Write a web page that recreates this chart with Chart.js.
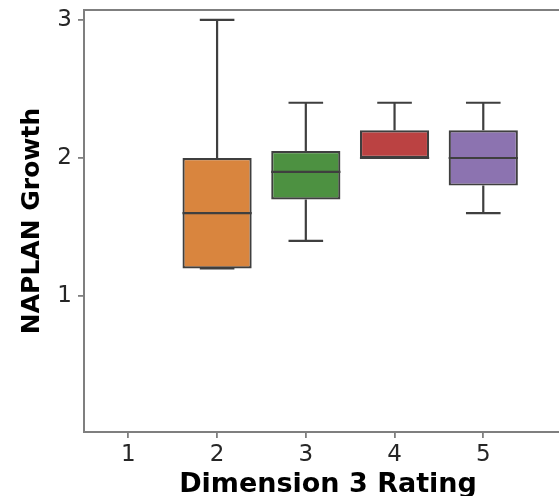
<!DOCTYPE html>
<html>
<head>
<meta charset="utf-8">
<script src="https://cdn.jsdelivr.net/npm/chart.js@4/dist/chart.umd.min.js"></script>
<style>
  html, body { margin: 0; padding: 0; background: #ffffff; overflow: hidden; }
  #wrap { width: 559px; height: 496px; overflow: hidden; position: relative; }
  canvas { display: block; }
</style>
</head>
<body>
<div id="wrap"><canvas id="c" width="572" height="496"></canvas></div>
<script>
// ---- data ----
const categories  = ['1', '2', '3', '4', '5'];
const whiskerLow  = [null, 1.2, 1.4, 2.0, 1.6];
const quartile1   = [null, 1.2, 1.7, 2.0, 1.8];
const medians     = [null, 1.6, 1.9, 2.0, 2.0];
const quartile3   = [null, 2.0, 2.05, 2.2, 2.2];
const whiskerHigh = [null, 3.0, 2.4, 2.4, 2.4];
const yTickValues = [1, 2, 3];
const boxColors   = ['#3274a1', '#d9853e', '#4d9141', '#bb4242', '#8c73b0'];

const LINE = '#3f3f3f';
const SPINE = '#7f7f7f';

const idx = categories.map((c, i) => i).filter(i => quartile1[i] !== null);

const boxData = idx.map(i => ({ x: i + 1, y: [quartile1[i], quartile3[i]] }));
const boxFill = idx.map(i => boxColors[i]);

const boxPlugin = {
  id: 'boxParts',
  afterDatasetsDraw(chart) {
    const ctx = chart.ctx;
    const xs = chart.scales.x, ys = chart.scales.y;
    const meta = chart.getDatasetMeta(0);
    ctx.save();
    ctx.strokeStyle = LINE;
    ctx.lineWidth = 2.2;
    ctx.lineCap = 'butt';
    idx.forEach((i, j) => {
      const el = meta.data[j];
      const cx = xs.getPixelForValue(i + 1);
      const half = el.width / 2;
      const capHalf = half / 2;
      const pLow = ys.getPixelForValue(whiskerLow[i]);
      const pQ1 = ys.getPixelForValue(quartile1[i]);
      const pMed = ys.getPixelForValue(medians[i]);
      const pQ3 = ys.getPixelForValue(quartile3[i]);
      const pHigh = ys.getPixelForValue(whiskerHigh[i]);
      ctx.beginPath();
      ctx.moveTo(cx, pQ3); ctx.lineTo(cx, pHigh);
      ctx.moveTo(cx - capHalf, pHigh); ctx.lineTo(cx + capHalf, pHigh);
      ctx.moveTo(cx, pQ1); ctx.lineTo(cx, pLow);
      ctx.moveTo(cx - capHalf, pLow); ctx.lineTo(cx + capHalf, pLow);
      ctx.moveTo(cx - half, pMed); ctx.lineTo(cx + half, pMed);
      ctx.stroke();
    });
    // top spine of the axes frame
    const area = chart.chartArea;
    ctx.strokeStyle = SPINE;
    ctx.lineWidth = 2;
    ctx.beginPath();
    ctx.moveTo(area.left - 1, area.top);
    ctx.lineTo(area.right, area.top);
    ctx.stroke();
    ctx.restore();
  }
};

new Chart(document.getElementById('c'), {
  type: 'bar',
  data: {
    datasets: [{
      data: boxData,
      backgroundColor: boxFill,
      borderColor: LINE,
      borderWidth: 2.2,
      borderSkipped: false,
      barPercentage: 0.78,
      categoryPercentage: 1.0
    }]
  },
  plugins: [boxPlugin],
  options: {
    responsive: false,
    animation: false,
    layout: { padding: { top: 10, left: 0, right: 0, bottom: 0 }, autoPadding: false },
    plugins: { legend: { display: false }, tooltip: { enabled: false } },
    scales: {
      x: {
        type: 'linear',
        position: 'bottom',
        offset: false,
        min: 0.5,
        max: 6.0,
        afterBuildTicks: s => { s.ticks = categories.map((c, i) => ({ value: i + 1 })); },
        afterFit: s => { s.height = 64; s.paddingLeft = 0; s.paddingRight = 0; },
        ticks: {
          callback: v => categories[v - 1],
          font: { family: 'DejaVu Sans', size: 23 },
          color: '#262626',
          padding: 3,
          maxRotation: 0,
          autoSkip: false
        },
        grid: { offset: false, drawOnChartArea: false, drawTicks: true, tickLength: 6, color: SPINE, lineWidth: 1.8 },
        border: { display: true, color: SPINE, width: 2 },
        title: {
          display: true,
          text: 'Dimension 3 Rating',
          font: { family: 'DejaVu Sans', size: 27, weight: 'bold' },
          color: '#000000',
          padding: { top: 0, bottom: -5 }
        }
      },
      y: {
        type: 'linear',
        min: 0.015,
        max: 3.072,
        afterBuildTicks: s => { s.ticks = yTickValues.map(v => ({ value: v })); },
        afterFit: s => { s.width = 84; s.paddingTop = 0; s.paddingBottom = 0; },
        ticks: {
          font: { family: 'DejaVu Sans', size: 23 },
          color: '#262626',
          padding: 6
        },
        grid: { drawOnChartArea: false, drawTicks: true, tickLength: 6, color: SPINE, lineWidth: 1.8 },
        border: { display: true, color: SPINE, width: 2 },
        title: {
          display: true,
          text: 'NAPLAN Growth',
          font: { family: 'DejaVu Sans', size: 25, weight: 'bold' },
          color: '#000000',
          padding: { top: 17, bottom: 0 }
        }
      }
    }
  }
});
</script>
</body>
</html>
